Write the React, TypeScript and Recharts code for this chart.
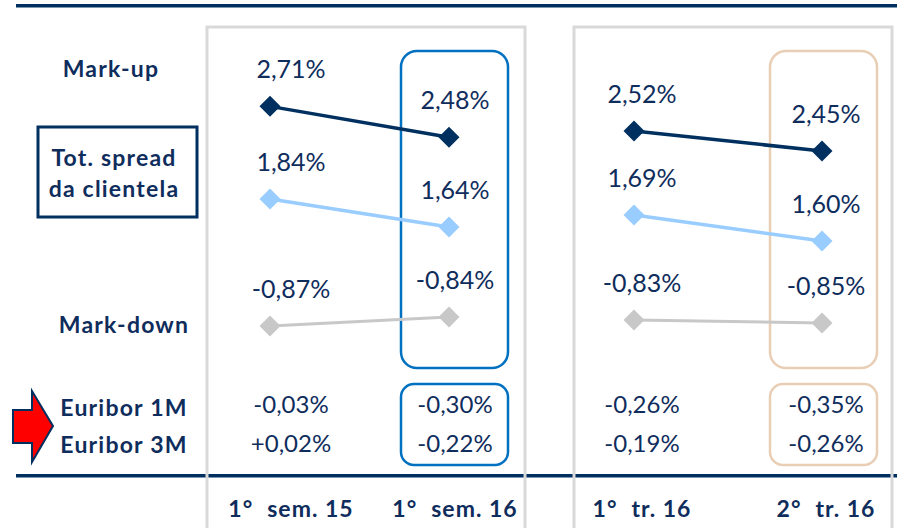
import React from 'react';
import { LineChart, Line, XAxis, YAxis, LabelList } from 'recharts';

// ---- data ----
const semesters = ['1° sem. 15', '1° sem. 16'];
const quarters = ['1° tr. 16', '2° tr. 16'];

const markupSem = [2.71, 2.48];
const spreadSem = [1.84, 1.64];
const markdownSem = [-0.87, -0.84];
const euribor1MSem = [-0.03, -0.3];
const euribor3MSem = [0.02, -0.22];

const markupTr = [2.52, 2.45];
const spreadTr = [1.69, 1.6];
const markdownTr = [-0.83, -0.85];
const euribor1MTr = [-0.26, -0.35];
const euribor3MTr = [-0.19, -0.26];

const rowLabels = ['Mark-up', 'Tot. spread', 'da clientela', 'Mark-down', 'Euribor 1M', 'Euribor 3M'];

// ---- style ----
const FONT = 'Lato, "Open Sans", sans-serif';
const NAVY = '#00305f';
const TEXT = '#0f2d5c';
const LIGHT = '#99ccff';
const GREY = '#c8c8c8';
const BLUEBOX = '#0070c0';
const TANBOX = '#e8ceb4';
const PANEL = '#d9d9d9';

const fmt = (v: number, plus = false) =>
  (plus && v > 0 ? '+' : '') + v.toFixed(2).replace('.', ',') + '%';

const diamond = (color: string) => (props: any) => {
  const { cx, cy, index } = props;
  if (cx == null || cy == null) return <g key={`d${index}`} />;
  const r = 10.5;
  return (
    <path
      key={`d${index}`}
      d={`M${cx},${cy - r}L${cx + r},${cy}L${cx},${cy + r}L${cx - r},${cy}Z`}
      fill={color}
    />
  );
};

const valueLabel = (dx: number[]) => (props: any) => {
  const { x, y, value, index } = props;
  if (x == null || y == null || value == null) return null;
  return (
    <text
      x={x + dx[index]}
      y={y - 28}
      textAnchor="middle"
      fill={TEXT}
      fontFamily={FONT}
      fontSize={25}
    >
      {fmt(Number(value))}
    </text>
  );
};

const makeTick = (dx: number[], e1: number[], e3: number[]) => (props: any) => {
  const { x, y, payload } = props;
  const i = payload.index ?? props.index ?? 0;
  const label = String(payload.value);
  const sp = label.indexOf(' ');
  const first = label.slice(0, sp);
  const rest = label.slice(sp + 1);
  const cx = x + dx[i];
  return (
    <g>
      <text x={cx} y={y - 65} textAnchor="middle" fill={TEXT} fontFamily={FONT} fontSize={24}>
        {fmt(e1[i], true)}
      </text>
      <text x={cx} y={y - 26} textAnchor="middle" fill={TEXT} fontFamily={FONT} fontSize={24}>
        {fmt(e3[i], true)}
      </text>
      <text
        x={cx}
        y={y + 39}
        textAnchor="middle"
        fill={TEXT}
        fontFamily={FONT}
        fontSize={23}
        fontWeight={700}
        letterSpacing={1}
      >
        <tspan>{first}</tspan>
        <tspan dx={14}>{rest}</tspan>
      </text>
    </g>
  );
};

type PanelProps = {
  left: number;
  width: number;
  ml: number;
  mr: number;
  periods: string[];
  mu: number[];
  sp: number[];
  md: number[];
  e1: number[];
  e3: number[];
  dom: { mu: [number, number]; sp: [number, number]; md: [number, number] };
  dx: number[];
};

function Panel(p: PanelProps) {
  const rows = p.periods.map((period, i) => ({
    period,
    markup: p.mu[i],
    spread: p.sp[i],
    markdown: p.md[i],
  }));
  return (
    <div style={{ position: 'absolute', left: p.left, top: 0 }}>
      <LineChart
        width={p.width}
        height={528}
        data={rows}
        margin={{ top: 0, right: p.mr, bottom: 0, left: p.ml }}
      >
        <XAxis
          dataKey="period"
          height={50}
          axisLine={false}
          tickLine={false}
          tickSize={0}
          tickMargin={0}
          interval={0}
          tick={makeTick(p.dx, p.e1, p.e3)}
        />
        <YAxis yAxisId="mu" hide type="number" domain={p.dom.mu} allowDataOverflow />
        <YAxis yAxisId="sp" hide type="number" domain={p.dom.sp} allowDataOverflow />
        <YAxis yAxisId="md" hide type="number" domain={p.dom.md} allowDataOverflow />
        <Line
          yAxisId="md"
          dataKey="markdown"
          stroke={GREY}
          strokeWidth={3}
          dot={diamond(GREY)}
          activeDot={false}
          isAnimationActive={false}
        >
          <LabelList dataKey="markdown" content={valueLabel(p.dx)} />
        </Line>
        <Line
          yAxisId="sp"
          dataKey="spread"
          stroke={LIGHT}
          strokeWidth={3.5}
          dot={diamond(LIGHT)}
          activeDot={false}
          isAnimationActive={false}
        >
          <LabelList dataKey="spread" content={valueLabel(p.dx)} />
        </Line>
        <Line
          yAxisId="mu"
          dataKey="markup"
          stroke={NAVY}
          strokeWidth={3.5}
          dot={diamond(NAVY)}
          activeDot={false}
          isAnimationActive={false}
        >
          <LabelList dataKey="markup" content={valueLabel(p.dx)} />
        </Line>
      </LineChart>
    </div>
  );
}

function Decorations() {
  const bold = { fontFamily: FONT, fontWeight: 700, fontSize: 23, fill: TEXT, letterSpacing: 1.2 } as const;
  return (
    <svg width={897} height={528} style={{ position: 'absolute', left: 0, top: 0 }}>
      <rect x={16} y={4} width={881} height={3.5} fill={NAVY} />
      <rect x={16} y={474} width={881} height={3.5} fill={NAVY} />
      <rect x={207} y={27} width={318} height={520} fill="none" stroke={PANEL} strokeWidth={3} />
      <rect x={574} y={27} width={318} height={520} fill="none" stroke={PANEL} strokeWidth={3} />
      <rect x={401} y={51} width={107} height={317} rx={16} fill="none" stroke={BLUEBOX} strokeWidth={2.5} />
      <rect x={401} y={384} width={107} height={81} rx={13} fill="none" stroke={BLUEBOX} strokeWidth={2.5} />
      <rect x={770} y={51} width={107} height={317} rx={16} fill="none" stroke={TANBOX} strokeWidth={2.5} />
      <rect x={770} y={384} width={107} height={81} rx={13} fill="none" stroke={TANBOX} strokeWidth={2.5} />
      <rect x={38} y={127} width={159} height={90} fill="none" stroke={NAVY} strokeWidth={3} />
      <text x={111} y={77} textAnchor="middle" {...bold}>{rowLabels[0]}</text>
      <text x={114} y={166} textAnchor="middle" {...bold}>{rowLabels[1]}</text>
      <text x={114} y={197} textAnchor="middle" {...bold}>{rowLabels[2]}</text>
      <text x={124} y={333} textAnchor="middle" {...bold}>{rowLabels[3]}</text>
      <text x={124} y={416} textAnchor="middle" {...bold}>{rowLabels[4]}</text>
      <text x={124} y={453} textAnchor="middle" {...bold}>{rowLabels[5]}</text>
      <polygon
        points="13,410 32,410 32,391 53,426 32,462 32,443 13,443"
        fill="#ff0000"
        stroke={NAVY}
        strokeWidth={2}
        strokeLinejoin="miter"
      />
    </svg>
  );
}

export default function App() {
  return (
    <div style={{ position: 'absolute', left: 0, top: 0, width: 897, height: 528, background: '#fff', overflow: 'hidden' }}>
      <Decorations />
      <Panel
        left={200}
        width={340}
        ml={70}
        mr={91}
        periods={semesters}
        mu={markupSem}
        sp={spreadSem}
        md={markdownSem}
        e1={euribor1MSem}
        e3={euribor3MSem}
        dom={{ mu: [-0.05, 3.5], sp: [-0.153, 3.261], md: [-1.377, 0.217] }}
        dx={[21, 6]}
      />
      <Panel
        left={560}
        width={337}
        ml={74}
        mr={75}
        periods={quarters}
        mu={markupTr}
        sp={spreadTr}
        md={markdownTr}
        e1={euribor1MTr}
        e3={euribor3MTr}
        dom={{ mu: [1.3055, 2.9785], sp: [0.7796, 2.4342], md: [-1.8833, 1.3033] }}
        dx={[8, 4]}
      />
    </div>
  );
}
